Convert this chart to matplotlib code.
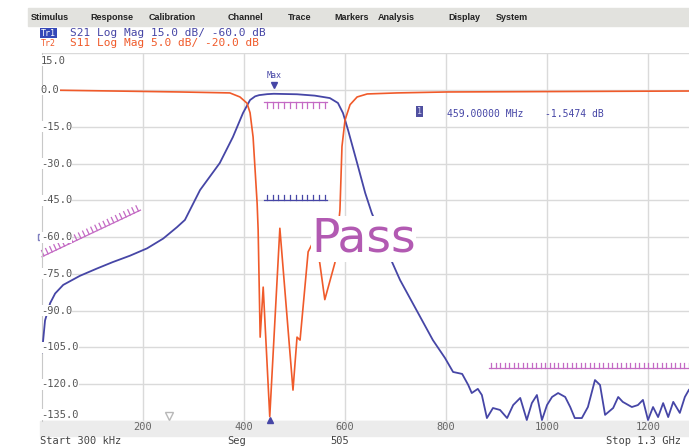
import matplotlib.pyplot as plt
from matplotlib import patheffects
from matplotlib.patches import Rectangle

# Tr1: S21 log mag (MHz, dB)
s21_freq = [0, 6, 16, 26, 42, 75, 109, 140, 174, 208, 240, 267, 283, 313, 352, 378,
            398, 412, 422, 430, 446, 459, 505, 540, 570, 586, 596, 606, 624, 640, 653,
            673, 693, 709, 774, 798, 814, 832, 844, 851, 863, 871, 881, 893, 907, 921,
            933, 947, 960, 970, 980, 990, 1000, 1010, 1022, 1036, 1046, 1055, 1069,
            1081, 1095, 1105, 1115, 1131, 1141, 1150, 1168, 1180, 1190, 1200, 1210,
            1220, 1230, 1240, 1250, 1263, 1273, 1281]
s21_db = [-107, -94, -87, -83, -79.5, -75.8, -72.8, -70.2, -67.6, -64.6, -60.6, -56,
          -53, -40.8, -29.8, -19.2, -9.4, -4.1, -2.6, -2.1, -1.7, -1.55, -1.75, -2.3,
          -3.3, -5.3, -9.4, -16.3, -29.8, -42, -50.2, -60, -70.1, -77.5, -102, -109.3,
          -115, -115.8, -120.3, -123.6, -121.9, -124.4, -133.8, -129.7, -130.5, -133.8,
          -128.5, -125.6, -134.6, -127.7, -124.4, -134.6, -128.5, -125.2, -123.6,
          -125.2, -129.3, -133.8, -133.8, -129.3, -118.3, -120.3, -132.5, -129.7,
          -125.2, -127.2, -129.3, -128.5, -126.4, -134.6, -129.3, -133.4, -127.7,
          -133.4, -127.2, -131.7, -125.2, -122.3]

# Tr2: S11 log mag (MHz, dB)
s11_freq = [0, 273, 372, 392, 406, 412, 418, 422, 426, 428, 432, 438, 451, 471, 497,
            505, 511, 527, 539, 550, 560, 580, 590, 594, 600, 610, 624, 644, 703, 802, 1281]
s11_db = [0, -0.27, -0.4, -0.95, -1.8, -3.1, -6.4, -10.9, -15.4, -19.0, -33.6, -26.8,
          -44.4, -18.8, -40.8, -33.6, -34.0, -22.0, -20.4, -23.5, -28.5, -23.5, -16.3,
          -7.7, -4.1, -2.0, -0.95, -0.54, -0.4, -0.27, -0.14]

# limit lines
lim_low_f = [0, 195]
lim_low_db = [-68, -49]
lim_pass_f = [440, 565]
lim_pass_db = [-5, -5]
lim_s11_f = [440, 565]
lim_s11_db = [-15, -15]
lim_high_f = [885, 1285]
lim_high_db = [-113.5, -113.5]

y_ticks = [15, 0, -15, -30, -45, -60, -75, -90, -105, -120, -135]
x_ticks = [200, 400, 600, 800, 1000, 1200]

mkr_f, mkr_db = 459, -1.5474

blue = '#4646a6'
red = '#f05a2a'
pink = '#c46ac4'
W, H = 689, 448
mono = 'DejaVu Sans Mono'


def fx(x):
    return x / W


def fy(y):
    return 1 - y / H


fig = plt.figure(figsize=(W / 100, H / 100), dpi=100)

# menu bar and bottom band
fig.patches.append(Rectangle((fx(28), fy(26)), 1, 18 / H, transform=fig.transFigure,
                             color='#e2e2de', zorder=-1))
fig.patches.append(Rectangle((fx(40), fy(436)), 1, 15 / H, transform=fig.transFigure,
                             color='#ececec', zorder=-1))
menu = [('Stimulus', 31), ('Response', 90), ('Calibration', 149), ('Channel', 228),
        ('Trace', 288), ('Markers', 334), ('Analysis', 378), ('Display', 448), ('System', 496)]
for word, x in menu:
    fig.text(fx(x), fy(17), word, fontsize=6.5, fontweight='bold', va='center',
             family=['Liberation Sans Narrow', 'Liberation Sans'], color='#222222')

fig.text(fx(41), fy(33), 'Tr1', fontsize=6, family=mono, color='white', va='center',
         bbox=dict(facecolor='#3548b8', edgecolor='none', pad=0.6))
fig.text(fx(70), fy(33), 'S21 Log Mag 15.0 dB/ -60.0 dB', fontsize=8, family=mono,
         color=blue, va='center')
fig.text(fx(41), fy(43), 'Tr2', fontsize=6, family=mono, color=red, va='center')
fig.text(fx(70), fy(43), 'S11 Log Mag 5.0 dB/ -20.0 dB', fontsize=8, family=mono,
         color=red, va='center')

ax = fig.add_axes([fx(42), 27 / H, (W - 42) / W, 367.8 / H])
ax.set_xlim(0, (W - 42) / 0.505)
ax.set_ylim(-135, 15)
ax.set_yticks(y_ticks)
ax.set_xticks(x_ticks)
ax.grid(color='#dadada', lw=1)
ax.tick_params(length=0, labelleft=False, labelbottom=False)
for s in ['top', 'right', 'bottom']:
    ax.spines[s].set_visible(False)
ax.spines['left'].set_color('#c8c8c8')

ax2 = ax.twinx()
ax2.set_ylim(-45, 5)
ax2.axis('off')

# limit lines
ax.plot(lim_low_f, lim_low_db, color=pink, lw=0.9, clip_on=False,
        path_effects=[patheffects.withTickedStroke(spacing=3.2, angle=90, length=1.3)])
ax.plot(lim_pass_f, lim_pass_db, color=pink, lw=0.9,
        path_effects=[patheffects.withTickedStroke(spacing=4, angle=-90, length=1.0)])
ax2.plot(lim_s11_f, lim_s11_db, color=blue, lw=0.9,
         path_effects=[patheffects.withTickedStroke(spacing=4, angle=90, length=1.0)])
ax.plot(lim_high_f, lim_high_db, color=pink, lw=0.9,
        path_effects=[patheffects.withTickedStroke(spacing=3.2, angle=90, length=1.3)])

# traces (S21 drawn on the S11 twin scale so both sit above the labels)
ax2.plot(s21_freq, [(v + 60) / 3 - 20 for v in s21_db], color=blue, lw=1.3)
ax2.plot(s11_freq, s11_db, color=red, lw=1.2)

# markers
ax.plot([mkr_f], [2.0], marker='v', color=blue, ms=4.5)
ax.text(mkr_f, 4.2, 'Max', fontsize=6, family=mono, color=blue, ha='center', va='bottom')
ax.plot([451], [-134.5], marker='^', color=blue, ms=5, clip_on=False)
ax.plot([251], [-133], marker='v', mfc='none', mec='#b8b8b8', ms=6, clip_on=False)
ax.plot([-2], [-60], marker='s', mfc='none', mec='#8080c0', ms=4, clip_on=False)

ax.text(747, -8.9, '1', fontsize=6, family=mono, color='#d0d0f0', ha='center', va='center',
        bbox=dict(facecolor='#5050a0', edgecolor='none', pad=0.8))
ax.text(802, -9.8, '459.00000 MHz', fontsize=7, family=mono, color=blue, va='center')
ax.text(996, -9.8, '-1.5474 dB', fontsize=7, family=mono, color=blue, va='center')

ax2.text(533, -22, 'Pass', fontsize=34, color='#b25ab2', va='baseline', ha='left',
         bbox=dict(facecolor='white', edgecolor='none', pad=0.5))

# y labels drawn inside the plot
for v in y_ticks:
    va = 'center'
    yy = v
    if v == 15:
        va, yy = 'top', 14
    if v == -135:
        va, yy = 'bottom', -134.5
    ax2.text(-0.002, (yy + 60) / 3 - 20, '%.1f' % v, fontsize=7.5, family=mono,
             color='#555555', ha='left', va=va, transform=ax2.get_yaxis_transform(),
             bbox=dict(facecolor='white', edgecolor='none', pad=0.3))

xtr = ax.get_xaxis_transform()
for v in x_ticks:
    ax.text(v, -0.016, str(v), fontsize=7.5, family=mono, color='#666666',
            ha='center', va='center', transform=xtr)

fig.text(fx(40), fy(441), 'Start 300 kHz', fontsize=7.5, family=mono, color='#444444', va='center')
fig.text(fx(227), fy(441), 'Seg', fontsize=7.5, family=mono, color='#444444', va='center')
fig.text(fx(330), fy(441), '505', fontsize=7.5, family=mono, color='#444444', va='center')
fig.text(fx(606), fy(441), 'Stop 1.3 GHz', fontsize=7.5, family=mono, color='#444444', va='center')

fig.savefig('out.png', dpi=100)
